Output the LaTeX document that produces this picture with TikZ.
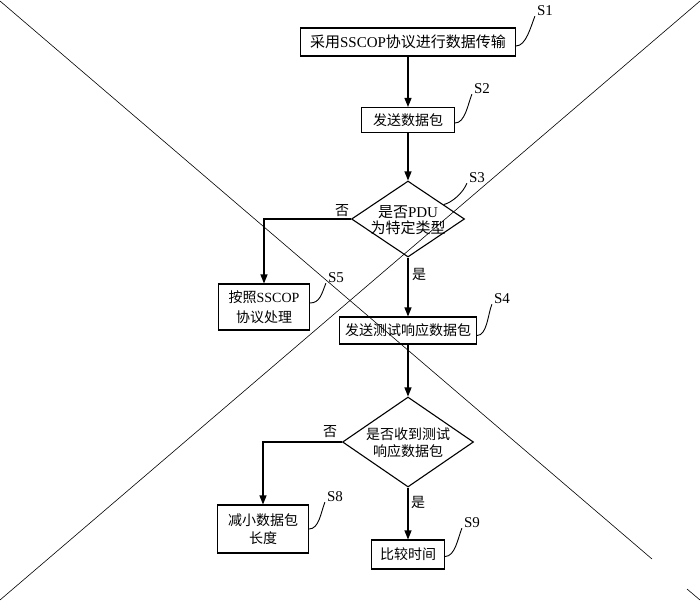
\documentclass[tikz,border=0pt]{standalone}
\usepackage{fontspec}
\setmainfont{Liberation Serif}
\newfontfamily\cjk{Noto Sans CJK SC}
\usetikzlibrary{shapes.geometric,arrows.meta}
\newcommand{\enpart}[1]{{\rmfamily #1}}
\begin{document}
\begin{tikzpicture}[x=1pt,y=-1pt,
  box/.style={draw, line width=1.1pt, inner sep=0pt, align=center,
    font=\cjk\fontsize{14}{17}\selectfont},
  bigbox/.style={box, font=\cjk\fontsize{15}{17}\selectfont},
  dec/.style={draw, diamond, line width=1.1pt, inner sep=0pt},
  dectxt/.style={inner sep=0pt, align=center},
  steplab/.style={inner sep=0pt, font=\fontsize{15}{17}\selectfont},
  lead/.style={line width=0.9pt},
  arr/.style={line width=1.1pt, -{Triangle[length=9pt,width=7pt]}},
  plainline/.style={line width=1.1pt},
  yn/.style={inner sep=0pt, font=\cjk\fontsize{14}{16}\selectfont},
  wm/.style={line width=0.6pt}]
\fill[white] (0,0) rectangle (700,600);
\useasboundingbox (0,0) rectangle (700,600);
% watermark cross
\draw[wm] (0,1) -- (652,559);
\draw[wm] (687,589) -- (700,600);
\draw[wm] (700,1) -- (0,600);
% boxes
\node[bigbox, minimum width=215, minimum height=28] (s1) at (408,42) {采用\enpart{SSCOP}协议进行数据传输};
\node[box, minimum width=93, minimum height=25] (s2) at (408,120) {发送数据包};
\node[dec, minimum width=113, minimum height=76] (d1) at (408,219) {};
\node[dectxt, font=\cjk\fontsize{15}{16}\selectfont] (d1t) at (408,220) {是否\enpart{PDU}\\为特定类型};
\node[box, minimum width=91, minimum height=46] (s5) at (264,307) {按照\enpart{SSCOP}\\[3pt]协议处理};
\node[box, minimum width=137, minimum height=27] (s4) at (408,330.5) {发送测试响应数据包};
\node[dec, minimum width=131, minimum height=90] (d2) at (408,442) {};
\node[dectxt, font=\cjk\fontsize{14}{17}\selectfont] (d2t) at (408,443) {是否收到测试\\响应数据包};
\node[box, minimum width=91, minimum height=48] (s8) at (263,529) {减小数据包\\[1pt]长度};
\node[box, minimum width=73, minimum height=29] (s9) at (408,554.5) {比较时间};
% step labels
\node[steplab] (l1) at (545,11) {S1};
\node[steplab] (l2) at (482,89) {S2};
\node[steplab] (l3) at (477,178) {S3};
\node[steplab] (l5) at (336,278) {S5};
\node[steplab] (l4) at (502,299) {S4};
\node[steplab] (l8) at (335,497) {S8};
\node[steplab] (l9) at (472,523) {S9};
% leaders
\draw[lead] ([yshift=-4pt]s1.east) .. controls +(10,0) and +(-4,10) .. ([xshift=-2pt]l1.south west);
\draw[lead] ([yshift=-3pt]s2.east) .. controls +(10,0) and +(-4,10) .. ([xshift=-2pt]l2.south west);
\draw[lead] (d1.22) .. controls +(8,-2) and +(-4,10) .. ([xshift=-2pt]l3.south west);
\draw[lead] ([yshift=4pt]s5.east) .. controls +(10,0) and +(-4,10) .. ([xshift=-2pt]l5.south west);
\draw[lead] ([yshift=-5pt]s4.east) .. controls +(10,0) and +(-4,10) .. ([xshift=-2pt]l4.south west);
\draw[lead] (s8.east) .. controls +(10,0) and +(-4,10) .. ([xshift=-2pt]l8.south west);
\draw[lead] ([yshift=-2pt]s9.east) .. controls +(10,0) and +(-4,10) .. ([xshift=-2pt]l9.south west);
% connectors
\draw[arr] (s1) -- (s2);
\draw[arr] (s2) -- (d1);
\draw[arr] (d1.west) -| (s5.north);
\draw[arr] (d1) -- (s4);
\draw[arr] (s4) -- (d2);
\draw[arr] (d2.west) -| (s8.north);
\draw[arr] (d2) -- (s9);
% yes / no labels
\node[yn] (n1) at (342,211) {否};
\node[yn] (y1) at (419,274) {是};
\node[yn] (n2) at (330,432) {否};
\node[yn] (y2) at (418,502) {是};
\end{tikzpicture}
\end{document}
